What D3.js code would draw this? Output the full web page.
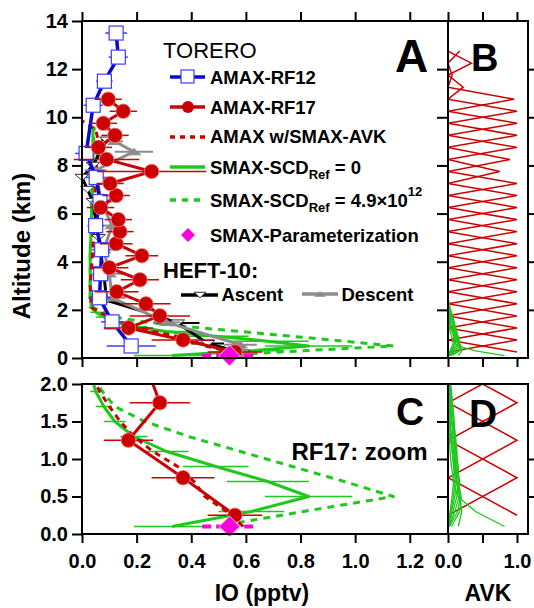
<!DOCTYPE html>
<html><head><meta charset="utf-8">
<script src="https://cdn.jsdelivr.net/npm/d3@7"></script>
<style>
body{margin:0;background:#fff}
svg{display:block}
text{font-family:"Liberation Sans",Arial,sans-serif}
</style>
</head><body>
<svg id="chart" width="534" height="608"></svg>
<script>
// ---------------- DATA ----------------
const ioTicks = [0, 0.2, 0.4, 0.6, 0.8, 1.0, 1.2];
const altTicksA = [0, 2, 4, 6, 8, 10, 12, 14];
const altTicksC = [0, 0.5, 1.0, 1.5, 2.0];
const avkTicks = [0, 0.5, 1.0];
const avkLabels = [0, 1.0];

// AMAX-RF12
const rf12Alt = [0.5, 1.5, 2.5, 3.5, 4.5, 5.5, 6.5, 7.5, 8.5, 10.5, 11.5, 12.5, 13.5];
const rf12IO  = [0.18, 0.11, 0.064, 0.068, 0.072, 0.05, 0.066, 0.052, 0.015, 0.041, 0.082, 0.133, 0.125];
const rf12Err = [0.09, 0.04, 0.04, 0.03, 0.03, 0.03, 0.03, 0.04, 0.04, 0.035, 0.03, 0.035, 0.04];

// AMAX-RF17
const rf17Alt = [0.25, 0.75, 1.25, 1.75, 2.25, 2.75, 3.25, 3.75, 4.25, 4.75, 5.25, 5.75, 6.25, 6.75, 7.25, 7.75, 8.25, 8.75, 9.25, 9.75, 10.25, 10.75];
const rf17IO  = [0.56, 0.37, 0.17, 0.285, 0.234, 0.127, 0.212, 0.10, 0.219, 0.125, 0.139, 0.133, 0.068, 0.125, 0.103, 0.255, 0.09, 0.06, 0.121, 0.078, 0.151, 0.096];
const rf17Err = [0.10, 0.115, 0.09, 0.11, 0.09, 0.08, 0.07, 0.07, 0.06, 0.06, 0.05, 0.05, 0.05, 0.05, 0.05, 0.2, 0.12, 0.05, 0.05, 0.05, 0.05, 0.05];

// AMAX w/SMAX-AVK
const avkAlt = [0.1, 0.3, 0.5, 0.7, 0.9, 1.1, 1.3, 1.5, 1.7, 1.9, 2.1, 3.0, 4.5, 6.0, 7.5, 9.0, 9.5, 9.85];
const avkIO  = [0.59, 0.53, 0.45, 0.41, 0.35, 0.26, 0.19, 0.14, 0.10, 0.065, 0.035, 0.03, 0.04, 0.045, 0.05, 0.06, 0.05, 0.0];

// SMAX-SCDRef = 0
const smaxAlt = [0.1, 0.3, 0.5, 0.7, 0.9, 1.1, 1.3, 1.5, 1.7, 1.9, 2.1, 2.5, 3.5, 4.5, 5.5, 6.5, 7.5, 8.5, 9.6];
const smaxIO  = [0.33, 0.62, 0.83, 0.68, 0.49, 0.31, 0.19, 0.12, 0.08, 0.05, 0.035, 0.03, 0.03, 0.03, 0.035, 0.035, 0.04, 0.04, 0.04];
const smaxErr = [0.14, 0.12, 0.16, 0.15, 0.12, 0.08, 0.05, 0.04, 0.03, 0.02, 0.01, 0, 0, 0, 0, 0, 0, 0, 0];

// SMAX-SCDRef = 4.9e12
const smaxRefAlt = [0.15, 0.3, 0.5, 0.7, 0.9, 1.1, 1.3, 1.5, 1.7, 1.9, 2.1, 2.5, 3.5, 4.5, 5.5, 6.5, 7.5, 8.5, 9.6];
const smaxRefIO  = [0.57, 0.81, 1.14, 0.96, 0.77, 0.58, 0.39, 0.23, 0.12, 0.075, 0.04, 0.03, 0.03, 0.03, 0.035, 0.035, 0.04, 0.04, 0.045];

// SMAX-Parameterization
const paramAlt = [0.1];
const paramIO  = [0.54];
const paramErr = [0.1];

// HEFT-10 ascent / descent
const ascAlt = [0.2, 0.6, 1.45, 1.85, 2.4, 3.5, 5.0, 6.5, 7.0, 7.5, 8.0, 9.05];
const ascIO  = [0.59, 0.46, 0.35, 0.25, 0.09, 0.08, 0.06, 0.04, 0.02, 0.0, 0.04, 0.09];
const ascErr = [0, 0.06, 0.08, 0, 0, 0, 0, 0, 0, 0, 0, 0.02];
const descAlt = [0.2, 0.55, 1.48, 2.5, 3.5, 4.5, 5.5, 6.5, 7.8, 8.57, 9.0];
const descIO  = [0.6, 0.58, 0.31, 0.11, 0.1, 0.08, 0.11, 0.07, 0.05, 0.19, 0.12];
const descErr = [0, 0.06, 0.05, 0.05, 0.05, 0.05, 0.04, 0.04, 0.04, 0.07, 0.03];

// AMAX averaging kernels (triangular, centre / peak)
const amaxKCentre = [0.25, 0.75, 1.25, 1.75, 2.25, 2.75, 3.25, 3.75, 4.25, 4.75, 5.25, 5.75, 6.25, 6.75, 7.25, 7.75, 8.25, 8.75, 9.25, 9.75, 10.25, 10.75, 11.25, 11.75, 12.25, 12.75];
const amaxKPeak   = [1, 1, 1, 1, 1, 1, 1, 1, 1, 1, 1, 1, 1, 1, 1, 0.75, 0.9, 1, 1, 1, 1, 0.96, 0.22, 0.06, 0.34, 0.17];
const amaxKHalfWidth = 0.5;
const amaxKRange = [0.25, 12.75];

// SMAX averaging kernels
const smaxKAlt = [0.1, 0.3, 0.5, 0.7, 0.9, 1.1, 1.3, 1.5, 1.7, 1.9, 2.1, 2.5];
const smaxK1 = [0.82, 0.40, 0.14, 0.08, 0.05, 0.03, 0.02, 0.01, 0.01, 0, 0, 0];
const smaxK2 = [0.15, 0.20, 0.17, 0.12, 0.08, 0.06, 0.04, 0.03, 0.02, 0.01, 0, 0];
const smaxK3 = [0.05, 0.17, 0.19, 0.15, 0.11, 0.08, 0.05, 0.03, 0.02, 0.01, 0, 0];
const smaxK4 = [0.02, 0.10, 0.16, 0.17, 0.13, 0.10, 0.07, 0.05, 0.03, 0.01, 0.01, 0];
const smaxK5 = [0.01, 0.07, 0.13, 0.15, 0.15, 0.12, 0.09, 0.06, 0.04, 0.02, 0.01, 0];
const smaxK6 = [0.01, 0.05, 0.10, 0.12, 0.13, 0.13, 0.11, 0.08, 0.05, 0.03, 0.01, 0];
const smaxK7 = [0.0, 0.04, 0.08, 0.10, 0.11, 0.11, 0.10, 0.09, 0.07, 0.04, 0.02, 0];
const smaxK8 = [0.0, 0.03, 0.06, 0.08, 0.09, 0.09, 0.09, 0.08, 0.07, 0.05, 0.03, 0];
const smaxK9 = [0.02, 0.14, 0.18, 0.13, 0.09, 0.06, 0.04, 0.02, 0.01, 0, 0, 0];
const smaxKernels = [smaxK1, smaxK2, smaxK3, smaxK4, smaxK5, smaxK6, smaxK7, smaxK8, smaxK9];

// ---------------- STYLE ----------------
const RED = '#cc0000', BLUE = '#0a0acc', BLUE2 = '#3c3cff', GREEN = '#1ec81e', MAG = '#ff00dd', GRAY = '#8c8c8c', BLACK = '#000';

const svg = d3.select('#chart');
const x  = d3.scaleLinear().domain([0, 1.34]).range([82, 448]);
const xk = d3.scaleLinear().domain([0, 1.16]).range([448, 528]);
const yA = d3.scaleLinear().domain([0, 14]).range([358, 21]);
const yC = d3.scaleLinear().domain([0, 2]).range([534, 384]);

const defs = svg.append('defs');
defs.append('clipPath').attr('id', 'clipC').append('rect').attr('x', 82).attr('y', 384).attr('width', 366).attr('height', 160);
defs.append('clipPath').attr('id', 'clipB').append('rect').attr('x', 448).attr('y', 21).attr('width', 80).attr('height', 337);
defs.append('clipPath').attr('id', 'clipD').append('rect').attr('x', 448).attr('y', 384).attr('width', 80).attr('height', 150);

const zip = (io, alt) => io.map((v, i) => [v, alt[i]]);

function profileLine(g, ys, io, alt, color, width, dash) {
  const p = g.append('path').datum(zip(io, alt))
    .attr('d', d3.line().x(d => x(d[0])).y(d => ys(d[1])))
    .attr('fill', 'none').attr('stroke', color).attr('stroke-width', width)
    .attr('stroke-linejoin', 'round');
  if (dash) p.attr('stroke-dasharray', dash);
}
function errBars(g, ys, io, alt, err, color, width, dash) {
  const data = io.map((v, i) => ({ v, a: alt[i], e: err[i] })).filter(d => d.e > 0);
  const s = g.selectAll(null).data(data).enter().append('line')
    .attr('x1', d => x(d.v - d.e)).attr('x2', d => x(d.v + d.e))
    .attr('y1', d => ys(d.a)).attr('y2', d => ys(d.a))
    .attr('stroke', color).attr('stroke-width', width);
  if (dash) s.attr('stroke-dasharray', dash);
}
function triPath(cx, cy, w, up) {
  const h = w * 0.9;
  return up ? `M${cx - w},${cy + h / 2}L${cx + w},${cy + h / 2}L${cx},${cy - h / 2}Z`
            : `M${cx - w},${cy - h / 2}L${cx + w},${cy - h / 2}L${cx},${cy + h / 2}Z`;
}
function diamondPath(cx, cy, r) {
  return `M${cx},${cy - r}L${cx + r},${cy}L${cx},${cy + r}L${cx - r},${cy}Z`;
}

function drawProfiles(g, ys, full) {
  errBars(g, ys, smaxIO, smaxAlt, smaxErr, GREEN, 1.5);
  profileLine(g, ys, smaxIO, smaxAlt, GREEN, 3);
  profileLine(g, ys, smaxRefIO, smaxRefAlt, GREEN, 3, '7,6');
  profileLine(g, ys, avkIO, avkAlt, RED, 3, '6,5');
  if (full) {
    errBars(g, ys, ascIO, ascAlt, ascErr, BLACK, 2);
    profileLine(g, ys, ascIO, ascAlt, BLACK, 3);
    g.selectAll(null).data(zip(ascIO, ascAlt)).enter().append('path')
      .attr('d', d => triPath(x(d[0]), ys(d[1]), 7, false))
      .attr('fill', '#fff').attr('stroke', '#333').attr('stroke-width', 1);
    errBars(g, ys, descIO, descAlt, descErr, GRAY, 2);
    profileLine(g, ys, descIO, descAlt, GRAY, 3);
    g.selectAll(null).data(zip(descIO, descAlt)).enter().append('path')
      .attr('d', d => triPath(x(d[0]), ys(d[1]), 7, true))
      .attr('fill', GRAY).attr('stroke', GRAY).attr('stroke-width', 1);
    errBars(g, ys, rf12IO, rf12Alt, rf12Err, BLUE2, 1.5);
    profileLine(g, ys, rf12IO, rf12Alt, BLUE, 3.5);
    g.selectAll(null).data(zip(rf12IO, rf12Alt)).enter().append('rect')
      .attr('x', d => x(d[0]) - 7).attr('y', d => ys(d[1]) - 7)
      .attr('width', 14).attr('height', 14)
      .attr('fill', '#fff').attr('stroke', BLUE2).attr('stroke-width', 1.2);
  }
  errBars(g, ys, rf17IO, rf17Alt, rf17Err, RED, 1.5);
  profileLine(g, ys, rf17IO, rf17Alt, RED, 3);
  g.selectAll(null).data(zip(rf17IO, rf17Alt)).enter().append('circle')
    .attr('cx', d => x(d[0])).attr('cy', d => ys(d[1])).attr('r', 7.3)
    .attr('fill', RED).attr('stroke', '#ee8888').attr('stroke-width', 0.8);
  errBars(g, ys, paramIO, paramAlt, paramErr, MAG, 4, '9,5');
  g.selectAll(null).data(zip(paramIO, paramAlt)).enter().append('path')
    .attr('d', d => diamondPath(x(d[0]), ys(d[1]), 10.5))
    .attr('fill', MAG).attr('stroke', '#fff').attr('stroke-width', 0.8);
}

function drawKernels(g, ys) {
  const kl = d3.line().x(d => xk(d[0])).y(d => ys(d[1]));
  const [kmin, kmax] = amaxKRange;
  amaxKCentre.forEach((c, i) => {
    const p = amaxKPeak[i], pts = [];
    if (c - amaxKHalfWidth > kmin) pts.push([0, kmin]);
    if (c - amaxKHalfWidth >= kmin) pts.push([0, c - amaxKHalfWidth]);
    pts.push([p, c]);
    if (c + amaxKHalfWidth <= kmax) pts.push([0, c + amaxKHalfWidth]);
    if (c + amaxKHalfWidth < kmax) pts.push([0, kmax]);
    g.append('path').attr('d', kl(pts)).attr('fill', 'none')
      .attr('stroke', RED).attr('stroke-width', 1.5).attr('stroke-linejoin', 'miter');
  });
  smaxKernels.forEach(k => {
    g.append('path').attr('d', kl(k.map((v, i) => [v, smaxKAlt[i]])))
      .attr('fill', 'none').attr('stroke', GREEN).attr('stroke-width', 1.3);
  });
}

// ---------------- PANELS ----------------
const gA = svg.append('g');
drawProfiles(gA, yA, true);
const gC = svg.append('g').attr('clip-path', 'url(#clipC)');
drawProfiles(gC, yC, false);
const gB = svg.append('g').attr('clip-path', 'url(#clipB)');
drawKernels(gB, yA);
const gD = svg.append('g').attr('clip-path', 'url(#clipD)');
drawKernels(gD, yC);

[[82, 21, 446, 337], [448, 21, 80, 337], [82, 384, 446, 150], [448, 384, 80, 150]].forEach(r => {
  svg.append('rect').attr('x', r[0]).attr('y', r[1]).attr('width', r[2]).attr('height', r[3])
    .attr('fill', 'none').attr('stroke', '#000').attr('stroke-width', 2);
});

function styleAxis(g, fs) {
  g.select('.domain').remove();
  g.selectAll('.tick line').attr('stroke', '#000').attr('stroke-width', 2);
  g.selectAll('.tick text').attr('font-size', fs).attr('font-weight', 'bold')
    .attr('fill', '#000').attr('font-family', '"Liberation Sans", Arial, sans-serif');
}
styleAxis(svg.append('g').attr('transform', 'translate(82,0)')
  .call(d3.axisLeft(yA).tickValues(altTicksA).tickSize(10).tickPadding(4).tickFormat(d3.format('d'))), 20);
styleAxis(svg.append('g').attr('transform', 'translate(0,21)')
  .call(d3.axisTop(x).tickValues(ioTicks).tickSize(9).tickFormat('')), 20);
styleAxis(svg.append('g').attr('transform', 'translate(0,358)')
  .call(d3.axisBottom(x).tickValues(ioTicks).tickSize(9).tickFormat('')), 20);
styleAxis(svg.append('g').attr('transform', 'translate(0,21)')
  .call(d3.axisTop(xk).tickValues(avkTicks).tickSize(9).tickFormat('')), 20);
styleAxis(svg.append('g').attr('transform', 'translate(0,358)')
  .call(d3.axisBottom(xk).tickValues(avkTicks).tickSize(9).tickFormat('')), 20);
styleAxis(svg.append('g').attr('transform', 'translate(448,0)')
  .call(d3.axisLeft(yA).tickValues(altTicksA.slice(1, -1)).tickSize(11).tickFormat('')), 20);
styleAxis(svg.append('g').attr('transform', 'translate(528,0)')
  .call(d3.axisRight(yA).tickValues(altTicksA.slice(1, -1)).tickSize(7).tickFormat('')), 20);
styleAxis(svg.append('g').attr('transform', 'translate(82,0)')
  .call(d3.axisLeft(yC).tickValues(altTicksC).tickSize(10).tickPadding(4).tickFormat(d3.format('.1f'))), 20);
styleAxis(svg.append('g').attr('transform', 'translate(0,534)')
  .call(d3.axisBottom(x).tickValues(ioTicks).tickSize(9).tickPadding(11).tickFormat(d3.format('.1f'))), 20);
const dAx = svg.append('g').attr('transform', 'translate(0,534)')
  .call(d3.axisBottom(xk).tickValues(avkTicks).tickSize(9).tickPadding(11)
    .tickFormat(d => avkLabels.includes(d) ? d3.format('.1f')(d) : ''));
styleAxis(dAx, 20);
styleAxis(svg.append('g').attr('transform', 'translate(448,0)')
  .call(d3.axisLeft(yC).tickValues(altTicksC.slice(1, -1)).tickSize(11).tickFormat('')), 20);
styleAxis(svg.append('g').attr('transform', 'translate(528,0)')
  .call(d3.axisRight(yC).tickValues(altTicksC.slice(1, -1)).tickSize(7).tickFormat('')), 20);

const T = (xx, yy, txt, fs, wt, anchor) => svg.append('text').attr('x', xx).attr('y', yy)
  .attr('font-size', fs).attr('font-weight', wt || 'bold').attr('text-anchor', anchor || 'start').text(txt);
T(262, 601, 'IO (pptv)', 23, 'bold', 'middle');
T(488, 601, 'AVK', 23, 'bold', 'middle');
svg.append('text').attr('transform', 'translate(30,246) rotate(-90)')
  .attr('text-anchor', 'middle').attr('font-size', 24).attr('font-weight', 'bold').text('Altitude (km)');

T(395, 72, 'A', 46);
T(471, 71, 'B', 38);
T(396, 424.5, 'C', 39);
T(469, 426.5, 'D', 39);
T(291.5, 460, 'RF17: zoom', 24);

// ---------------- LEGEND ----------------
T(163, 58, 'TORERO', 22, 'normal');
const lg = svg.append('g');
function legLine(y, color, dash, w) {
  const l = lg.append('line').attr('x1', 170).attr('x2', 205).attr('y1', y).attr('y2', y)
    .attr('stroke', color).attr('stroke-width', w || 3.5);
  if (dash) l.attr('stroke-dasharray', dash);
}
legLine(77, BLUE);
lg.append('rect').attr('x', 181).attr('y', 70).attr('width', 13).attr('height', 13)
  .attr('fill', '#fff').attr('stroke', BLUE2).attr('stroke-width', 1.2);
T(210, 83.5, 'AMAX-RF12', 18.5);
legLine(107, RED);
lg.append('circle').attr('cx', 188).attr('cy', 107).attr('r', 6).attr('fill', RED);
T(210, 113.5, 'AMAX-RF17', 18.5);
legLine(137, RED, '5,5');
T(210, 143, 'AMAX w/SMAX-AVK', 18.5);
legLine(167, GREEN);
const t1 = T(210, 173.5, 'SMAX-SCD', 18.5);
t1.append('tspan').attr('font-size', 13).attr('dy', 5).text('Ref');
t1.append('tspan').attr('dy', -5).text(' = 0');
legLine(200, GREEN, '6,6');
const t2 = T(210, 206.5, 'SMAX-SCD', 18.5);
t2.append('tspan').attr('font-size', 13).attr('dy', 5).text('Ref');
t2.append('tspan').attr('dy', -5).text(' = 4.9×10');
t2.append('tspan').attr('font-size', 13).attr('dy', -11).text('12');
lg.append('path').attr('d', diamondPath(188, 235, 7)).attr('fill', MAG);
T(210, 241.5, 'SMAX-Parameterization', 18.5);
T(163, 278, 'HEFT-10:', 22);
lg.append('line').attr('x1', 181).attr('x2', 218).attr('y1', 295).attr('y2', 295).attr('stroke', BLACK).attr('stroke-width', 3.5);
lg.append('path').attr('d', triPath(200, 295, 6, false)).attr('fill', '#fff').attr('stroke', '#333').attr('stroke-width', 1);
T(221.5, 300.5, 'Ascent', 18.5);
lg.append('line').attr('x1', 302).attr('x2', 338).attr('y1', 294).attr('y2', 294).attr('stroke', GRAY).attr('stroke-width', 3.5);
lg.append('path').attr('d', triPath(320, 294, 6, true)).attr('fill', GRAY);
T(341.5, 300.5, 'Descent', 18.5);
</script>
</body></html>
